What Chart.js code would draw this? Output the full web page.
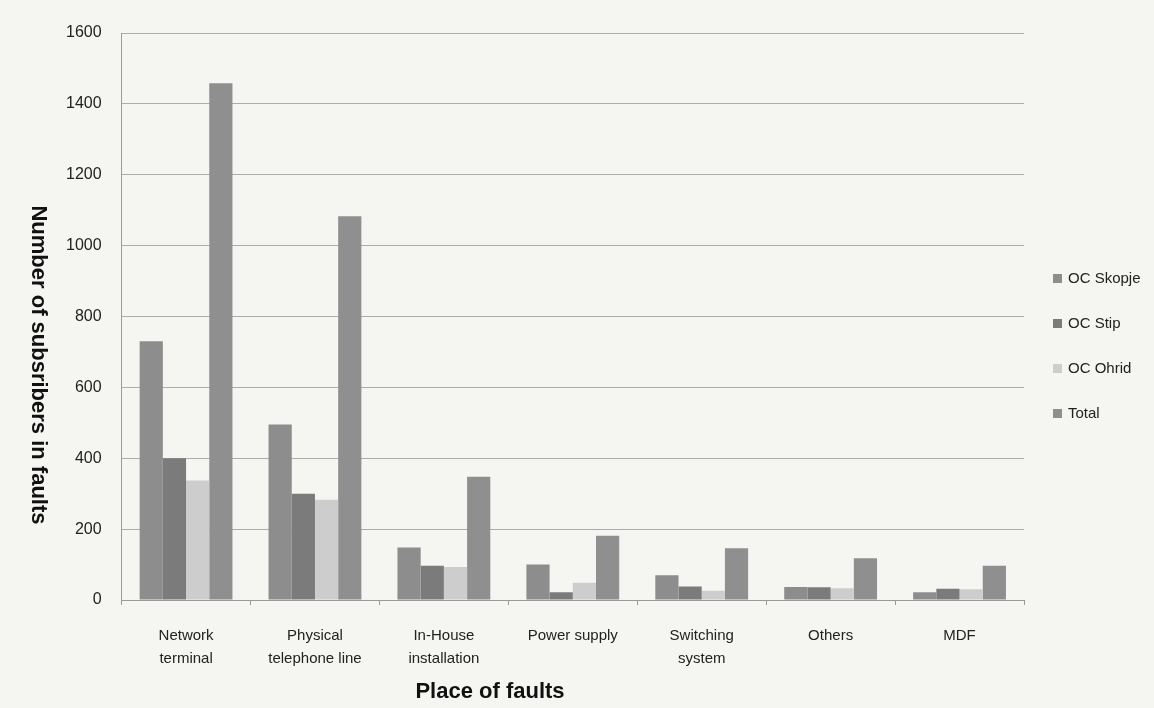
<!DOCTYPE html>
<html>
<head>
<meta charset="utf-8">
<script src="https://cdn.jsdelivr.net/npm/chart.js@4"></script>
<style>
  html, body { margin: 0; padding: 0; background: #f5f5f2; }
  #wrap { width: 1154px; height: 708px; }
</style>
</head>
<body>
<div id="wrap"><canvas id="myChart" width="1154" height="708"></canvas></div>
<script>
// Categories and series
const categories = [
    ['Network', 'terminal'],
    ['Physical', 'telephone line'],
    ['In-House', 'installation'],
    ['Power supply'],
    ['Switching', 'system'],
    ['Others'],
    ['MDF']
];
const ocSkopje = [730, 495, 148, 100, 70, 37, 22];
const ocStip   = [400, 300, 97, 22, 38, 36, 32];
const ocOhrid  = [337, 283, 93, 49, 26, 33, 30];
const total    = [1458, 1083, 348, 181, 146, 118, 97];
const yTicks   = [0, 200, 400, 600, 800, 1000, 1200, 1400, 1600];

const seriesNames  = ['OC Skopje', 'OC Stip', 'OC Ohrid', 'Total'];
const seriesColors = ['#8d8d8d', '#7b7b7b', '#cdcdcd', '#8f8f8f'];

const FONT = "'Liberation Sans', Arial, sans-serif";
const yTitle = 'Number of subsribers in faults';
const xTitle = 'Place of faults';

// Axis titles and legend drawn where the original figure has them
const extras = {
    id: 'extras',
    afterDraw(chart) {
        const ctx = chart.ctx;
        ctx.save();
        ctx.fillStyle = '#111';
        ctx.font = 'bold 22px ' + FONT;
        ctx.textAlign = 'center';
        ctx.textBaseline = 'middle';
        ctx.fillText(xTitle, 490, 692);
        ctx.translate(38, 365);
        ctx.rotate(Math.PI / 2);
        ctx.fillText(yTitle, 0, 0);
        ctx.restore();

        ctx.save();
        const x = 1053;
        let y = 278;
        ctx.font = '15px ' + FONT;
        ctx.textBaseline = 'middle';
        chart.data.datasets.forEach(ds => {
            ctx.fillStyle = ds.backgroundColor;
            ctx.fillRect(x, y - 4, 9, 9);
            ctx.fillStyle = '#222';
            ctx.fillText(ds.label, x + 15, y + 1);
            y += 45;
        });
        ctx.restore();
    }
};

const ctx = document.getElementById('myChart').getContext('2d');
new Chart(ctx, {
    type: 'bar',
    data: {
        labels: categories,
        datasets: [
            { label: seriesNames[0], data: ocSkopje, backgroundColor: seriesColors[0] },
            { label: seriesNames[1], data: ocStip,   backgroundColor: seriesColors[1] },
            { label: seriesNames[2], data: ocOhrid,  backgroundColor: seriesColors[2] },
            { label: seriesNames[3], data: total,    backgroundColor: seriesColors[3] }
        ]
    },
    options: {
        responsive: false,
        animation: false,
        layout: { padding: { left: 46, right: 130, top: 33, bottom: 18 } },
        datasets: {
            bar: { categoryPercentage: 0.72, barPercentage: 1.0 }
        },
        scales: {
            x: {
                offset: true,
                grid: {
                    offset: true,
                    drawOnChartArea: false,
                    tickLength: 5,
                    color: '#9a9a9a'
                },
                border: { color: '#9a9a9a' },
                ticks: {
                    color: '#222',
                    maxRotation: 0,
                    autoSkip: false,
                    padding: 20,
                    font: { family: FONT, size: 15, lineHeight: 1.5 }
                }
            },
            y: {
                min: 0,
                max: 1600,
                afterBuildTicks: axis => { axis.ticks = yTicks.map(v => ({ value: v })); },
                grid: { color: '#acacac', tickLength: 0 },
                border: { color: '#9a9a9a' },
                ticks: {
                    color: '#222',
                    padding: 20,
                    callback: v => String(v),
                    font: { family: FONT, size: 16 }
                }
            }
        },
        plugins: {
            legend: { display: false },
            tooltip: { enabled: false }
        }
    },
    plugins: [extras]
});
</script>
</body>
</html>
